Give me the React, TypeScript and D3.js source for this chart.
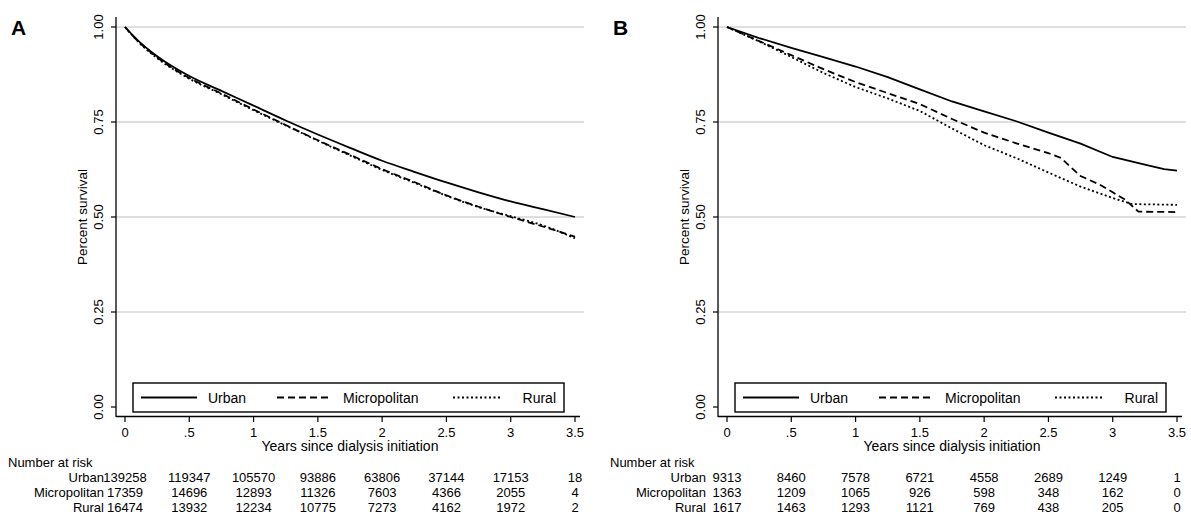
import { useEffect, useRef } from 'react';
import * as d3 from 'd3';

// survival estimates
const timesA = [0, 0.1, 0.25, 0.5, 0.75, 1, 1.25, 1.5, 1.75, 2, 2.25, 2.5, 2.75, 3, 3.25, 3.5];
const urbanA = [1, 0.965, 0.923, 0.871, 0.832, 0.793, 0.754, 0.717, 0.682, 0.648, 0.619, 0.591, 0.565, 0.541, 0.521, 0.5];
const microA = [1, 0.963, 0.92, 0.866, 0.825, 0.783, 0.742, 0.702, 0.664, 0.626, 0.592, 0.557, 0.527, 0.5, 0.475, 0.448];
const ruralA = [1, 0.962, 0.918, 0.864, 0.823, 0.781, 0.741, 0.701, 0.662, 0.624, 0.59, 0.556, 0.526, 0.502, 0.478, 0.444];

const urbanBTimes = [0, 0.25, 0.5, 0.75, 1, 1.25, 1.5, 1.75, 2, 2.25, 2.5, 2.75, 3, 3.25, 3.4, 3.5];
const urbanB = [1, 0.971, 0.945, 0.921, 0.896, 0.868, 0.836, 0.804, 0.778, 0.752, 0.722, 0.693, 0.658, 0.638, 0.626, 0.622];
const microBTimes = [0, 0.25, 0.5, 0.75, 1, 1.25, 1.5, 1.75, 2, 2.25, 2.5, 2.6, 2.67, 2.75, 2.9, 3, 3.1, 3.2, 3.5];
const microB = [1, 0.963, 0.926, 0.889, 0.855, 0.826, 0.797, 0.758, 0.722, 0.694, 0.668, 0.655, 0.632, 0.608, 0.585, 0.565, 0.545, 0.514, 0.513];
const ruralBTimes = [0, 0.25, 0.5, 0.75, 1, 1.25, 1.5, 1.75, 2, 2.25, 2.5, 2.75, 3, 3.15, 3.5];
const ruralB = [1, 0.962, 0.921, 0.879, 0.842, 0.812, 0.779, 0.733, 0.689, 0.655, 0.617, 0.58, 0.55, 0.534, 0.532];

const groups = ['Urban', 'Micropolitan', 'Rural'];
const xTicks = [0, 0.5, 1, 1.5, 2, 2.5, 3, 3.5];
const yTicks = [0, 0.25, 0.5, 0.75, 1];

// number at risk, one value per x tick
const riskUrbanA = [139258, 119347, 105570, 93886, 63806, 37144, 17153, 18];
const riskMicroA = [17359, 14696, 12893, 11326, 7603, 4366, 2055, 4];
const riskRuralA = [16474, 13932, 12234, 10775, 7273, 4162, 1972, 2];
const riskUrbanB = [9313, 8460, 7578, 6721, 4558, 2689, 1249, 1];
const riskMicroB = [1363, 1209, 1065, 926, 598, 348, 162, 0];
const riskRuralB = [1617, 1463, 1293, 1121, 769, 438, 205, 0];

const font = '"Liberation Sans", Arial, Helvetica, sans-serif';
const dashes = [null, '7,4', '2,2.5'];

const drawPanel = (svg, opt) => {
    const { ox, letter, series, risk, curve } = opt;
    const axisX = ox + 116;
    const x = d3.scaleLinear().domain([0, 3.5]).range([ox + 125, ox + 575]);
    const y = d3.scaleLinear().domain([0, 1]).range([407, 27]);
    const g = svg.append('g');

    g.append('text')
        .attr('x', ox + 11).attr('y', 35)
        .style('font-size', '21px').style('font-weight', 'bold')
        .text(letter);

    // grid
    g.append('g').selectAll('line')
        .data(yTicks.filter(d => d > 0))
        .join('line')
        .attr('x1', axisX).attr('x2', ox + 584)
        .attr('y1', d => y(d)).attr('y2', d => y(d))
        .attr('stroke', '#d4d4d4').attr('stroke-width', 1.4);

    // axes
    g.append('line').attr('x1', axisX).attr('x2', axisX).attr('y1', 17).attr('y2', 417)
        .attr('stroke', '#000').attr('stroke-width', 1.3);
    g.append('line').attr('x1', axisX).attr('x2', ox + 580).attr('y1', 416.5).attr('y2', 416.5)
        .attr('stroke', '#000').attr('stroke-width', 1.3);

    g.append('g').selectAll('line')
        .data(yTicks)
        .join('line')
        .attr('x1', axisX - 5).attr('x2', axisX)
        .attr('y1', d => y(d)).attr('y2', d => y(d))
        .attr('stroke', '#000').attr('stroke-width', 1.2);
    g.append('g').selectAll('text')
        .data(yTicks)
        .join('text')
        .attr('transform', d => `translate(${ox + 103},${y(d)}) rotate(-90)`)
        .attr('text-anchor', 'middle')
        .style('font-size', '13px')
        .text(d => d3.format('.2f')(d));

    g.append('g').selectAll('line')
        .data(xTicks)
        .join('line')
        .attr('x1', d => x(d)).attr('x2', d => x(d))
        .attr('y1', 416.5).attr('y2', 422)
        .attr('stroke', '#000').attr('stroke-width', 1.2);
    g.append('g').selectAll('text')
        .data(xTicks)
        .join('text')
        .attr('x', d => x(d)).attr('y', 437)
        .attr('text-anchor', 'middle')
        .style('font-size', '13px')
        .text(d => (d === 0 ? '0' : d3.format('.1~f')(d).replace(/^0/, '')));

    g.append('text')
        .attr('x', (x(0) + x(3.5)) / 2).attr('y', 451)
        .attr('text-anchor', 'middle')
        .style('font-size', '14px')
        .text('Years since dialysis initiation');
    g.append('text')
        .attr('transform', `translate(${ox + 87},217) rotate(-90)`)
        .attr('text-anchor', 'middle')
        .style('font-size', '13.5px')
        .text('Percent survival');

    // curves
    const line = d3.line().x(d => x(d[0])).y(d => y(d[1])).curve(curve);
    series.forEach((s, i) => {
        g.append('path')
            .datum(s.t.map((t, j) => [t, s.v[j]]))
            .attr('d', line)
            .attr('fill', 'none')
            .attr('stroke', '#000')
            .attr('stroke-width', 1.8)
            .attr('stroke-dasharray', dashes[i]);
    });

    // legend
    const lg = g.append('g');
    lg.append('rect')
        .attr('x', ox + 133).attr('y', 383).attr('width', 431).attr('height', 29)
        .attr('fill', '#fff').attr('stroke', '#000').attr('stroke-width', 1.4);
    const legendX = [141, 277, 453];
    const legendW = [56, 55, 47];
    groups.forEach((name, i) => {
        lg.append('line')
            .attr('x1', ox + legendX[i]).attr('x2', ox + legendX[i] + legendW[i])
            .attr('y1', 397.5).attr('y2', 397.5)
            .attr('stroke', '#000').attr('stroke-width', 1.8)
            .attr('stroke-dasharray', dashes[i]);
        lg.append('text')
            .attr('x', i === 2 ? ox + 556 : ox + legendX[i] + legendW[i] + 11)
            .attr('y', 402.5)
            .attr('text-anchor', i === 2 ? 'end' : 'start')
            .style('font-size', '14px')
            .text(name);
    });

    // number at risk table
    g.append('text')
        .attr('x', ox + 8).attr('y', 467)
        .style('font-size', '13px')
        .text('Number at risk');
    risk.forEach((row, r) => {
        const yy = 482 + r * 15;
        g.append('text')
            .attr('x', x(0) - 21).attr('y', yy)
            .attr('text-anchor', 'end')
            .style('font-size', '13px')
            .text(groups[r]);
        g.append('g').selectAll('text')
            .data(row)
            .join('text')
            .attr('x', (d, i) => x(xTicks[i]))
            .attr('y', yy)
            .attr('text-anchor', 'middle')
            .style('font-size', '13px')
            .text(d => d);
    });
};

const App = () => {
    const svgRef = useRef();

    useEffect(() => {
        const svg = d3.select(svgRef.current);
        svg.selectAll('*').remove();
        svg.style('font-family', font);

        drawPanel(svg, {
            ox: 0,
            letter: 'A',
            curve: d3.curveMonotoneX,
            series: [
                { t: timesA, v: urbanA },
                { t: timesA, v: microA },
                { t: timesA, v: ruralA },
            ],
            risk: [riskUrbanA, riskMicroA, riskRuralA],
        });
        drawPanel(svg, {
            ox: 602,
            letter: 'B',
            curve: d3.curveLinear,
            series: [
                { t: urbanBTimes, v: urbanB },
                { t: microBTimes, v: microB },
                { t: ruralBTimes, v: ruralB },
            ],
            risk: [riskUrbanB, riskMicroB, riskRuralB],
        });
    }, []);

    return (
        <svg ref={svgRef} width="1191" height="521"
            style={{ position: 'absolute', left: 0, top: 0, background: '#fff' }}></svg>
    );
};

export default App;
